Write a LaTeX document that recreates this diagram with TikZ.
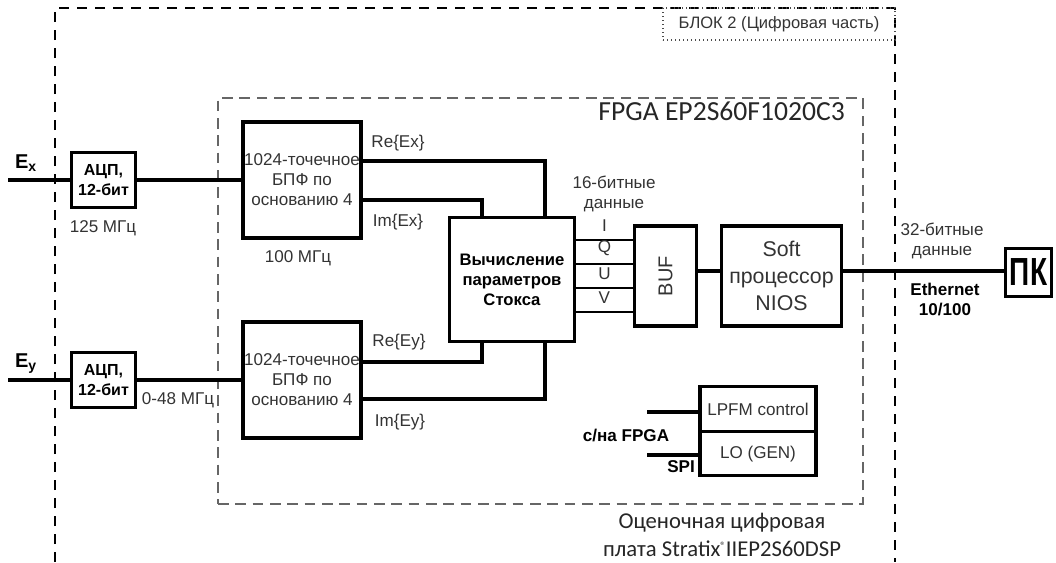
\documentclass[tikz,border=0pt]{standalone}
\usepackage{fontspec}
\setmainfont{Liberation Sans}
\newfontfamily\calibrifont{Carlito}
\usetikzlibrary{
  positioning,
  calc
}

\begin{document}
\begin{tikzpicture}[
  x=0.75pt, y=-0.75pt,
  blk/.style={
    draw, line width=2.4pt, inner sep=1pt, align=center,
    font=\fontsize{12.8}{15}\selectfont, text=black!80
  },
  bblk/.style={blk, text=black, font=\bfseries\fontsize{12}{15}\selectfont},
  sig/.style={line width=2.6pt},
  bus/.style={line width=2.2pt},
  lbl/.style={font=\fontsize{12.8}{15}\selectfont, text=black!80, align=center, inner sep=0pt},
  bld/.style={font=\bfseries\fontsize{12.8}{15}\selectfont, align=center, inner sep=0pt},
  zone/.style={draw, line width=0.9pt, dash pattern=on 7.5pt off 6pt},
  fpgabox/.style={draw=black!60, line width=1.1pt, dash pattern=on 8pt off 5pt},
]
\useasboundingbox (0,0) rectangle (1056,562);

% digital part (open at the bottom) and FPGA area
\draw[zone] (55,562) -- (55,8) -- (895,8) -- (895,562);
\node[draw=black!70, dotted, line width=1pt, minimum width=174pt, minimum height=24pt,
  font=\fontsize{12.4}{14}\selectfont, text=black!80] (blk2) at (779,24) {БЛОК 2 (Цифровая часть)};
\node[fpgabox, minimum width=483.75pt, minimum height=304.5pt] (fpga) at (540.5,301) {};
\node[anchor=base east, inner sep=0pt, font=\calibrifont\fontsize{20.7}{20}\selectfont, text=black!85]
  (fpgalbl) at (845,120) {FPGA EP2S60F1020C3};
\node[anchor=center, inner sep=0pt, align=center, font=\calibrifont\fontsize{17}{21}\selectfont, text=black!85]
  (board) at (722,535) {Оценочная цифровая\\плата Stratix\raisebox{5pt}{\fontsize{8}{8}\selectfont\textregistered}IIEP2S60DSP};

% ADC and FFT channels
\node[bblk, minimum width=48pt, minimum height=41pt] (adcx) at (103.5,180) {АЦП,\\12-бит};
\node[bblk, minimum width=48pt, minimum height=41pt] (adcy) at (103.5,380) {АЦП,\\12-бит};
\node[blk, minimum width=88pt, minimum height=87pt] (fftx) at (302,180) {1024-точечное\\БПФ по\\основанию 4};
\node[blk, minimum width=88pt, minimum height=87pt] (ffty) at (302,380) {1024-точечное\\БПФ по\\основанию 4};

% Stokes, buffer, processor, PC
\node[bblk, minimum width=94pt, minimum height=93pt, font=\bfseries\fontsize{12.5}{15}\selectfont]
  (stokes) at (512,279.5) {Вычисление\\параметров\\Стокса};
\node[blk, minimum width=47pt, minimum height=75pt, font=\fontsize{15}{15}\selectfont] (buf) at (665.5,276) {\rotatebox{90}{BUF}};
\node[blk, minimum width=90pt, minimum height=75pt, font=\fontsize{16}{20}\selectfont] (soft) at (781.5,276) {Soft\\процессор\\NIOS};
\node[blk, minimum width=35pt, minimum height=36pt, inner sep=0.5pt, text=black] (pk) at (1028.5,272.5)
  {\scalebox{1}[1.4]{\bfseries\fontsize{21}{21}\selectfont ПК}};

% LPFM / LO
\node[blk, minimum width=87pt, minimum height=34pt] (lpfm) at (758,409) {LPFM control};
\node[blk, minimum width=87pt, minimum height=33pt, below=-2.4pt of lpfm] (lo) {LO (GEN)};

% inputs
\coordinate (exin) at (8,180);
\coordinate (eyin) at (8,380);
\node[inner sep=0pt, font=\bfseries\fontsize{15}{15}\selectfont] (exlbl) at (26,163) {E\textsubscript{x}};
\node[inner sep=0pt, font=\bfseries\fontsize{15}{15}\selectfont] (eylbl) at (26,364) {E\textsubscript{y}};
\draw[sig] (exin) -- (adcx.west);
\draw[sig] (adcx.east) -- (fftx.west);
\draw[sig] (eyin) -- (adcy.west);
\draw[sig] (adcy.east) -- (ffty.west);
\node[lbl] (f125) at (103,228) {125 МГц};
\node[lbl] (f048) at (178,400) {0-48 МГц};
\node[lbl] (f100) at (298,258) {100 МГц};

% FFT outputs to Stokes
\draw[sig] ($(fftx.east)+(0,-19)$) -| ($(stokes.north)+(33,0)$);
\draw[sig] ($(fftx.east)+(0,20)$) -| ($(stokes.north)+(-30,0)$);
\draw[sig] ($(ffty.east)+(0,-18)$) -| ($(stokes.south)+(-30,0)$);
\draw[sig] ($(ffty.east)+(0,19)$) -| ($(stokes.south)+(33,0)$);
\node[lbl] (reex) at (398,143) {Re\{Ex\}};
\node[lbl] (imex) at (398,222) {Im\{Ex\}};
\node[lbl] (reey) at (399,342) {Re\{Ey\}};
\node[lbl] (imey) at (400,422) {Im\{Ey\}};

% Stokes parameters to buffer
\node[lbl] (d16) at (614,194) {16-битные\\данные};
\foreach \s [count=\i] in {I,Q,U,V}{
  \coordinate (q\i) at (0,{216+24*\i});
  \draw[bus] (stokes.east |- q\i) -- node[lbl, above=5pt] {\s} (buf.west |- q\i);
}

% buffer -> processor -> PC
\coordinate (eth) at (0,271);
\draw[sig] (buf.east |- eth) -- (soft.west |- eth);
\draw[sig] (soft.east |- eth) -- (pk.west |- eth);
\node[lbl] (d32) at (942,241) {32-битные\\данные};
\node[bld] (ethlbl) at (945,299) {Ethernet\\10/100};

% control lines
\coordinate (fpgain) at (647,412);
\coordinate (spiin) at (647,455);
\draw[sig] (fpgain) -- (lpfm.west |- fpgain);
\draw[sig] (spiin) -- (lo.west |- spiin);
\node[bld] (fpgaio) at (626,435) {с/на FPGA};
\node[bld] (spi) at (681,467) {SPI};

\end{tikzpicture}
\end{document}
